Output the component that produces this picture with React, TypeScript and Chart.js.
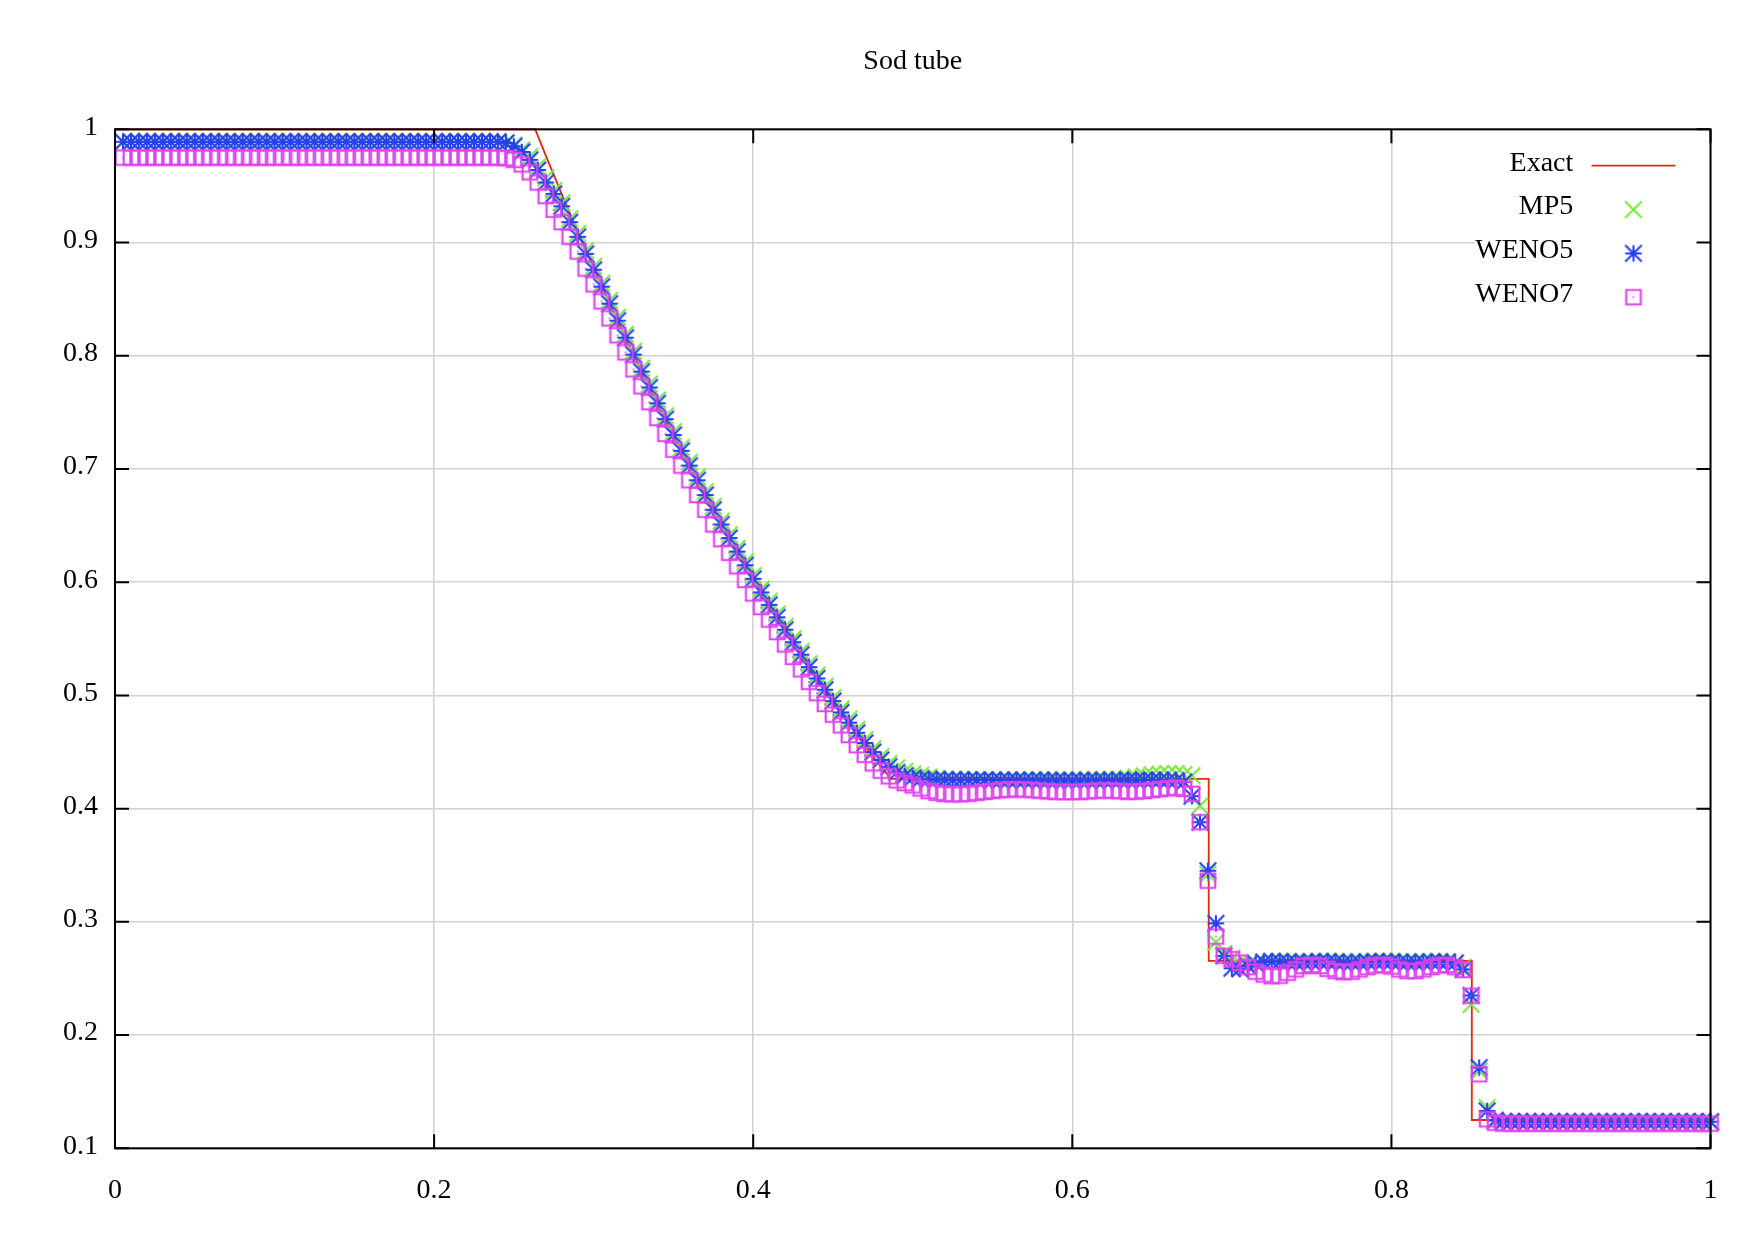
import React, { useEffect, useRef } from "react";
import { Chart, registerables } from "chart.js";

Chart.register(...registerables);

const TITLE = "Sod tube";
const SERIES_NAMES = ["Exact", "MP5", "WENO5", "WENO7"];

// Exact solution (breakpoints of the drawn line)
const EXACT_X = [
  0, 0.2634, 0.27, 0.28, 0.29, 0.3, 0.31, 0.32, 0.33, 0.34, 0.35, 0.36, 0.37, 0.38, 0.39, 0.4,
  0.41, 0.42, 0.43, 0.44, 0.45, 0.46, 0.47, 0.48, 0.4864, 0.6855, 0.6855, 0.8504, 0.8504, 1,
];
const EXACT_Y = [
  1, 1, 0.9768, 0.9427, 0.9096, 0.8774, 0.8462, 0.8158, 0.7863, 0.7577, 0.7299, 0.7029, 0.6768,
  0.6514, 0.6268, 0.603, 0.5798, 0.5574, 0.5356, 0.5146, 0.4942, 0.4745, 0.4554, 0.437, 0.4263,
  0.4263, 0.2656, 0.2656, 0.125, 0.125,
];

// Grid points of the numerical solutions
const X_GRID = [
  0.005, 0.01, 0.015, 0.02, 0.025, 0.03, 0.035, 0.04, 0.045, 0.05,
  0.055, 0.06, 0.065, 0.07, 0.075, 0.08, 0.085, 0.09, 0.095, 0.1,
  0.105, 0.11, 0.115, 0.12, 0.125, 0.13, 0.135, 0.14, 0.145, 0.15,
  0.155, 0.16, 0.165, 0.17, 0.175, 0.18, 0.185, 0.19, 0.195, 0.2,
  0.205, 0.21, 0.215, 0.22, 0.225, 0.23, 0.235, 0.24, 0.245, 0.25,
  0.255, 0.26, 0.265, 0.27, 0.275, 0.28, 0.285, 0.29, 0.295, 0.3,
  0.305, 0.31, 0.315, 0.32, 0.325, 0.33, 0.335, 0.34, 0.345, 0.35,
  0.355, 0.36, 0.365, 0.37, 0.375, 0.38, 0.385, 0.39, 0.395, 0.4,
  0.405, 0.41, 0.415, 0.42, 0.425, 0.43, 0.435, 0.44, 0.445, 0.45,
  0.455, 0.46, 0.465, 0.47, 0.475, 0.48, 0.485, 0.49, 0.495, 0.5,
  0.505, 0.51, 0.515, 0.52, 0.525, 0.53, 0.535, 0.54, 0.545, 0.55,
  0.555, 0.56, 0.565, 0.57, 0.575, 0.58, 0.585, 0.59, 0.595, 0.6,
  0.605, 0.61, 0.615, 0.62, 0.625, 0.63, 0.635, 0.64, 0.645, 0.65,
  0.655, 0.66, 0.665, 0.67, 0.675, 0.68, 0.685, 0.69, 0.695, 0.7,
  0.705, 0.71, 0.715, 0.72, 0.725, 0.73, 0.735, 0.74, 0.745, 0.75,
  0.755, 0.76, 0.765, 0.77, 0.775, 0.78, 0.785, 0.79, 0.795, 0.8,
  0.805, 0.81, 0.815, 0.82, 0.825, 0.83, 0.835, 0.84, 0.845, 0.85,
  0.855, 0.86, 0.865, 0.87, 0.875, 0.88, 0.885, 0.89, 0.895, 0.9,
  0.905, 0.91, 0.915, 0.92, 0.925, 0.93, 0.935, 0.94, 0.945, 0.95,
  0.955, 0.96, 0.965, 0.97, 0.975, 0.98, 0.985, 0.99, 0.995, 1,
];

const MP5 = [
  0.989, 0.989, 0.989, 0.989, 0.989, 0.989, 0.989, 0.989, 0.989, 0.989,
  0.989, 0.989, 0.989, 0.989, 0.989, 0.989, 0.989, 0.989, 0.989, 0.989,
  0.989, 0.989, 0.989, 0.989, 0.989, 0.989, 0.989, 0.989, 0.989, 0.989,
  0.989, 0.989, 0.989, 0.989, 0.989, 0.989, 0.989, 0.989, 0.989, 0.989,
  0.989, 0.989, 0.989, 0.989, 0.989, 0.989, 0.989, 0.989, 0.988, 0.986,
  0.982, 0.976, 0.967, 0.957, 0.946, 0.935, 0.921, 0.908, 0.893, 0.879,
  0.864, 0.849, 0.834, 0.819, 0.804, 0.789, 0.775, 0.761, 0.747, 0.733,
  0.719, 0.706, 0.693, 0.68, 0.667, 0.654, 0.642, 0.63, 0.618, 0.606,
  0.594, 0.583, 0.572, 0.561, 0.55, 0.539, 0.528, 0.518, 0.508, 0.498,
  0.488, 0.479, 0.47, 0.461, 0.453, 0.446, 0.44, 0.436, 0.433, 0.4308,
  0.4295, 0.428, 0.4268, 0.426, 0.4257, 0.4256, 0.4256, 0.4255, 0.4255, 0.4255,
  0.4254, 0.4254, 0.4255, 0.4255, 0.4256, 0.4256, 0.4256, 0.4255, 0.4255, 0.4255,
  0.4255, 0.4256, 0.4257, 0.4258, 0.426, 0.4262, 0.427, 0.428, 0.429, 0.43,
  0.4305, 0.431, 0.431, 0.4302, 0.4291, 0.4026, 0.342, 0.282, 0.272, 0.268,
  0.264, 0.2625, 0.2635, 0.2645, 0.2652, 0.2654, 0.2652, 0.265, 0.265, 0.2652,
  0.2654, 0.2655, 0.2653, 0.265, 0.2648, 0.265, 0.2652, 0.2654, 0.2655, 0.2653,
  0.265, 0.2648, 0.2648, 0.265, 0.2652, 0.2653, 0.2652, 0.264, 0.26, 0.2271,
  0.1683, 0.136, 0.125, 0.1235, 0.1235, 0.1235, 0.1235, 0.1235, 0.1235, 0.1235,
  0.1235, 0.1235, 0.1235, 0.1235, 0.1235, 0.1235, 0.1235, 0.1235, 0.1235, 0.1235,
  0.1235, 0.1235, 0.1235, 0.1235, 0.1235, 0.1235, 0.1235, 0.1235, 0.1235, 0.1235,
];

const WENO5 = [
  0.989, 0.989, 0.989, 0.989, 0.989, 0.989, 0.989, 0.989, 0.989, 0.989,
  0.989, 0.989, 0.989, 0.989, 0.989, 0.989, 0.989, 0.989, 0.989, 0.989,
  0.989, 0.989, 0.989, 0.989, 0.989, 0.989, 0.989, 0.989, 0.989, 0.989,
  0.989, 0.989, 0.989, 0.989, 0.989, 0.989, 0.989, 0.989, 0.989, 0.989,
  0.989, 0.989, 0.989, 0.989, 0.989, 0.989, 0.989, 0.989, 0.988, 0.985,
  0.98, 0.973, 0.964, 0.953, 0.943, 0.932, 0.918, 0.905, 0.89, 0.876,
  0.861, 0.846, 0.831, 0.816, 0.801, 0.786, 0.772, 0.758, 0.744, 0.73,
  0.716, 0.703, 0.69, 0.677, 0.664, 0.651, 0.639, 0.627, 0.615, 0.603,
  0.591, 0.58, 0.569, 0.558, 0.547, 0.536, 0.525, 0.515, 0.505, 0.495,
  0.485, 0.476, 0.467, 0.458, 0.45, 0.443, 0.437, 0.432, 0.429, 0.4272,
  0.4262, 0.4258, 0.4256, 0.4255, 0.4255, 0.4254, 0.4254, 0.4253, 0.4253, 0.4252,
  0.4252, 0.4251, 0.4251, 0.425, 0.425, 0.425, 0.4249, 0.4249, 0.4249, 0.4249,
  0.4249, 0.4249, 0.4249, 0.425, 0.425, 0.425, 0.4251, 0.4251, 0.4252, 0.4252,
  0.4252, 0.4251, 0.4248, 0.4235, 0.411, 0.388, 0.3451, 0.2987, 0.27, 0.259,
  0.2585, 0.261, 0.263, 0.2645, 0.265, 0.2648, 0.2644, 0.2642, 0.2643, 0.2646,
  0.2648, 0.2647, 0.2644, 0.2641, 0.264, 0.2642, 0.2645, 0.2647, 0.2648, 0.2646,
  0.2643, 0.2641, 0.2641, 0.2643, 0.2645, 0.2646, 0.2645, 0.2635, 0.258, 0.235,
  0.1713, 0.133, 0.1245, 0.1235, 0.1235, 0.1235, 0.1235, 0.1235, 0.1235, 0.1235,
  0.1235, 0.1235, 0.1235, 0.1235, 0.1235, 0.1235, 0.1235, 0.1235, 0.1235, 0.1235,
  0.1235, 0.1235, 0.1235, 0.1235, 0.1235, 0.1235, 0.1235, 0.1235, 0.1235, 0.1235,
];

const WENO7 = [
  0.975, 0.975, 0.975, 0.975, 0.975, 0.975, 0.975, 0.975, 0.975, 0.975,
  0.975, 0.975, 0.975, 0.975, 0.975, 0.975, 0.975, 0.975, 0.975, 0.975,
  0.975, 0.975, 0.975, 0.975, 0.975, 0.975, 0.975, 0.975, 0.975, 0.975,
  0.975, 0.975, 0.975, 0.975, 0.975, 0.975, 0.975, 0.975, 0.975, 0.975,
  0.975, 0.975, 0.975, 0.975, 0.975, 0.975, 0.975, 0.975, 0.9745, 0.973,
  0.969, 0.962, 0.953, 0.941, 0.929, 0.918, 0.905, 0.892, 0.877, 0.863,
  0.848, 0.833, 0.818, 0.803, 0.788, 0.773, 0.759, 0.745, 0.731, 0.717,
  0.703, 0.69, 0.677, 0.664, 0.651, 0.638, 0.626, 0.614, 0.602, 0.59,
  0.578, 0.567, 0.556, 0.545, 0.534, 0.523, 0.512, 0.502, 0.4925, 0.483,
  0.4735, 0.465, 0.456, 0.4475, 0.44, 0.4335, 0.4285, 0.425, 0.4225, 0.4205,
  0.4178, 0.4155, 0.414, 0.413, 0.4126, 0.4127, 0.4132, 0.414, 0.4148, 0.4156,
  0.4163, 0.4168, 0.417, 0.4168, 0.4163, 0.4157, 0.4152, 0.4148, 0.4146, 0.4146,
  0.4148, 0.4152, 0.4157, 0.416, 0.4158, 0.4153, 0.4149, 0.415, 0.4156, 0.4164,
  0.4172, 0.418, 0.4186, 0.4174, 0.413, 0.388, 0.3364, 0.287, 0.27, 0.267,
  0.264, 0.26, 0.256, 0.2535, 0.252, 0.2525, 0.255, 0.258, 0.261, 0.262,
  0.261, 0.2585, 0.2565, 0.2555, 0.256, 0.258, 0.26, 0.2615, 0.262, 0.2605,
  0.258, 0.2565, 0.2565, 0.258, 0.26, 0.2615, 0.262, 0.26, 0.2575, 0.2347,
  0.1654, 0.1256, 0.1226, 0.1218, 0.1218, 0.1218, 0.1218, 0.1218, 0.1218, 0.1218,
  0.1218, 0.1218, 0.1218, 0.1218, 0.1218, 0.1218, 0.1218, 0.1218, 0.1218, 0.1218,
  0.1218, 0.1218, 0.1218, 0.1218, 0.1218, 0.1218, 0.1218, 0.1218, 0.1218, 0.1218,
];

const COLOR_EXACT = "rgb(228, 40, 10)";
const COLOR_MP5 = "rgb(120, 232, 56)";
const COLOR_WENO5 = "rgb(40, 64, 242)";
const COLOR_WENO7 = "rgb(224, 66, 240)";
const FONT_FAMILY = '"Liberation Serif", "Times New Roman", serif';

function makeMarker(kind: string, color: string): HTMLCanvasElement {
  const c = document.createElement("canvas");
  c.width = 22;
  c.height = 22;
  const g = c.getContext("2d")!;
  g.strokeStyle = color;
  g.fillStyle = color;
  g.lineWidth = 2.1;
  const m = 11, h = 8.3;
  const a = m - h, b = m + h;
  g.beginPath();
  if (kind === "x" || kind === "star") {
    g.moveTo(a, a); g.lineTo(b, b);
    g.moveTo(b, a); g.lineTo(a, b);
  }
  if (kind === "star") {
    g.moveTo(a, m); g.lineTo(b, m);
    g.moveTo(m, a); g.lineTo(m, b);
  }
  if (kind === "box") {
    g.rect(m - 7.3, m - 7.3, 14.6, 14.6);
  }
  g.stroke();
  if (kind === "box") g.fillRect(m - 0.8, m - 0.8, 1.6, 1.6);
  return c;
}

export default function App() {
  const ref = useRef<HTMLCanvasElement>(null);

  useEffect(() => {
    const canvas = ref.current;
    if (!canvas) return;
    const mX = makeMarker("x", COLOR_MP5);
    const mStar = makeMarker("star", COLOR_WENO5);
    const mBox = makeMarker("box", COLOR_WENO7);
    const samples: (HTMLCanvasElement | null)[] = [null, mX, mStar, mBox];

    const pts = (ys: number[]) => ys.map((y, k) => ({ x: X_GRID[k], y }));

    const framePlugin = {
      id: "gnuplotFrame",
      afterDraw(chart: any) {
        const { ctx, chartArea: ca, scales } = chart;
        ctx.save();
        // title
        ctx.fillStyle = "#000";
        ctx.font = `28px ${FONT_FAMILY}`;
        ctx.textAlign = "center";
        ctx.textBaseline = "middle";
        ctx.fillText(TITLE, (ca.left + ca.right) / 2, 61.5);
        // opaque key box
        ctx.fillStyle = "#fff";
        ctx.fillRect(ca.right - 235.5, ca.top + 1.5, 234, 187);
        // border
        ctx.strokeStyle = "#000";
        ctx.lineWidth = 2;
        ctx.strokeRect(ca.left, ca.top, ca.right - ca.left, ca.bottom - ca.top);
        // inward ticks, mirrored
        const T = 14;
        ctx.beginPath();
        for (const t of scales.x.ticks) {
          const px = scales.x.getPixelForValue(t.value);
          ctx.moveTo(px, ca.bottom); ctx.lineTo(px, ca.bottom - T);
          ctx.moveTo(px, ca.top); ctx.lineTo(px, ca.top + T);
        }
        for (const t of scales.y.ticks) {
          const py = scales.y.getPixelForValue(t.value);
          ctx.moveTo(ca.left, py); ctx.lineTo(ca.left + T, py);
          ctx.moveTo(ca.right, py); ctx.lineTo(ca.right - T, py);
        }
        ctx.stroke();
        // key
        ctx.font = `28px ${FONT_FAMILY}`;
        ctx.textAlign = "right";
        ctx.textBaseline = "middle";
        SERIES_NAMES.forEach((name, i) => {
          const y = ca.top + 34 + 43.8 * i;
          ctx.fillStyle = "#000";
          ctx.fillText(name, ca.right - 137.2, y);
          const s = samples[i];
          if (s) {
            ctx.drawImage(s, ca.right - 77 - s.width / 2, y + 2.5 - s.height / 2);
          } else {
            ctx.strokeStyle = COLOR_EXACT;
            ctx.lineWidth = 1.8;
            ctx.beginPath();
            ctx.moveTo(ca.right - 119, y + 2.4);
            ctx.lineTo(ca.right - 35, y + 2.4);
            ctx.stroke();
          }
        });
        ctx.restore();
      },
    };

    const tickFont = { family: FONT_FAMILY, size: 28, weight: "normal" as const };
    const fmt = (v: any) => String(Math.round(Number(v) * 10) / 10);

    const chart = new Chart(canvas, {
      type: "line",
      data: {
        datasets: [
          {
            label: SERIES_NAMES[0],
            data: EXACT_X.map((x, k) => ({ x, y: EXACT_Y[k] })),
            borderColor: COLOR_EXACT,
            borderWidth: 1.8,
            pointRadius: 0,
            tension: 0,
            fill: false,
            order: 4,
            clip: false as any,
          },
          {
            label: SERIES_NAMES[1],
            data: pts(MP5),
            showLine: false,
            pointStyle: mX as any,
            pointRadius: 8,
            order: 3,
            clip: false as any,
          },
          {
            label: SERIES_NAMES[2],
            data: pts(WENO5),
            showLine: false,
            pointStyle: mStar as any,
            pointRadius: 8,
            order: 2,
            clip: false as any,
          },
          {
            label: SERIES_NAMES[3],
            data: pts(WENO7),
            showLine: false,
            pointStyle: mBox as any,
            pointRadius: 8,
            order: 1,
            clip: false as any,
          },
        ],
      },
      options: {
        responsive: false,
        animation: false,
        devicePixelRatio: 1,
        events: [],
        layout: { padding: { top: 129.3, right: 51.5, bottom: 0, left: 0 } },
        plugins: {
          legend: { display: false },
          tooltip: { enabled: false },
          title: { display: false },
        },
        scales: {
          x: {
            type: "linear",
            min: 0,
            max: 1,
            border: { display: false },
            grid: { color: "#d2d2d2", lineWidth: 1.6, drawTicks: false },
            ticks: {
              stepSize: 0.2,
              padding: 26,
              color: "#000",
              font: tickFont,
              maxRotation: 0,
              autoSkip: false,
              callback: fmt,
            },
            afterFit: (s: any) => { s.height = 88.7; },
          },
          y: {
            type: "linear",
            min: 0.1,
            max: 1,
            border: { display: false },
            grid: { color: "#d2d2d2", lineWidth: 1.6, drawTicks: false },
            ticks: {
              stepSize: 0.1,
              padding: 17,
              labelOffset: -2,
              color: "#000",
              font: tickFont,
              autoSkip: false,
              callback: fmt,
            },
            afterFit: (s: any) => { s.width = 115; },
          },
        },
      },
      plugins: [framePlugin],
    } as any);

    return () => chart.destroy();
  }, []);

  return (
    <div style={{ position: "absolute", left: 0, top: 0, width: 1762, height: 1237, background: "#fff" }}>
      <canvas ref={ref} width={1762} height={1237} style={{ display: "block", width: 1762, height: 1237 }} />
    </div>
  );
}
